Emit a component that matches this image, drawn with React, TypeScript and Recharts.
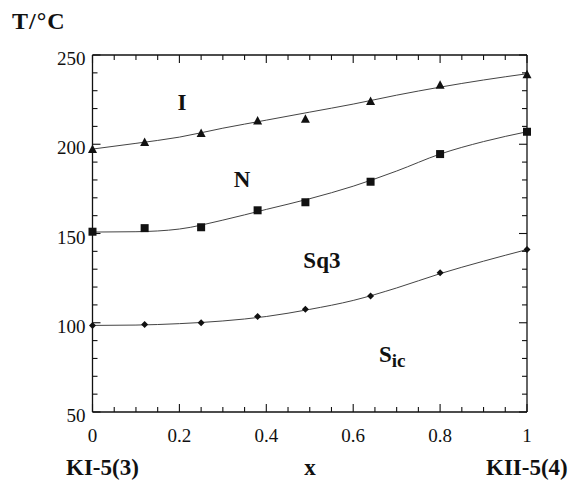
import { ComposedChart, Line, Scatter, XAxis, YAxis } from 'recharts';

// composition x of the measured points (same for all three transitions)
const compX = [0, 0.12, 0.25, 0.38, 0.49, 0.64, 0.8, 1];
const isoT = [197, 201, 206, 213, 214, 224, 233, 239];
const nemT = [151, 153, 153.5, 163, 167.5, 179, 194.5, 207];
const sq3T = [98.5, 99, 100, 103.5, 107.5, 115, 128, 141];

// smooth fitted curves
const fitX = [0, 0.1, 0.2, 0.3, 0.4, 0.5, 0.6, 0.7, 0.8, 0.9, 1];
const isoFit = [197.3, 200.5, 204, 209, 213.5, 218, 222.5, 227.5, 232, 236, 239.5];
const nemFit = [150.8, 151, 152.5, 157.5, 163.5, 169.5, 176.5, 185, 194.5, 201.5, 207];
const sq3Fit = [98.5, 98.7, 99.5, 101, 103.5, 107.5, 112.5, 119.5, 127.5, 134.5, 141];

const regionNames = ['I', 'N', 'Sq3', 'Sic'];
const regionX = [0.206, 0.344, 0.528, 0.69];
const regionT = [223.7, 180.5, 134.8, 82.5];

const xTicks = [0, 0.05, 0.1, 0.15, 0.2, 0.25, 0.3, 0.35, 0.4, 0.45, 0.5, 0.55, 0.6, 0.65, 0.7, 0.75, 0.8, 0.85, 0.9, 0.95, 1];
const xMajor = [0, 0.2, 0.4, 0.6, 0.8, 1];
const xMajorLabels = ['0', '0.2', '0.4', '0.6', '0.8', '1'];
const yTicks = [50, 60, 70, 80, 90, 100, 110, 120, 130, 140, 150, 160, 170, 180, 190, 200, 210, 220, 230, 240, 250];
const yMajor = [50, 100, 150, 200, 250];

const toRows = (xs: number[], ts: number[]) => xs.map((x, i) => ({ x, t: ts[i] }));

const isoPts = toRows(compX, isoT);
const nemPts = toRows(compX, nemT);
const sq3Pts = toRows(compX, sq3T);
const isoLine = toRows(fitX, isoFit);
const nemLine = toRows(fitX, nemFit);
const sq3Line = toRows(fitX, sq3Fit);
const regions = regionNames.map((name, i) => ({ x: regionX[i], t: regionT[i], name }));

const serif = '"Liberation Serif", "DejaVu Serif", serif';
const ink = '#111';

// ticks point inward on all four sides; majors are longer
const BottomTick = (p: any) => {
  const v = p.payload.value;
  const k = xMajor.indexOf(v);
  return (
    <g>
      <line x1={p.x} y1={p.y} x2={p.x} y2={p.y - (k >= 0 ? 8 : 5)} stroke={ink} strokeWidth={1.1} />
      {k >= 0 && (
        <text x={p.x} y={p.y + 30} textAnchor="middle" fontFamily={serif} fontSize={19} fill={ink}>
          {xMajorLabels[k]}
        </text>
      )}
    </g>
  );
};

const TopTick = (p: any) => {
  const major = xMajor.includes(p.payload.value);
  return <line x1={p.x} y1={p.y} x2={p.x} y2={p.y + (major ? 8 : 5)} stroke={ink} strokeWidth={1.1} />;
};

const LeftTick = (p: any) => {
  const v = p.payload.value;
  const major = yMajor.includes(v);
  return (
    <g>
      <line x1={p.x} y1={p.y} x2={p.x + (major ? 8 : 5)} y2={p.y} stroke={ink} strokeWidth={1.1} />
      {major && (
        <text x={p.x - 7} y={p.y + 10} textAnchor="end" fontFamily={serif} fontSize={19} fill={ink}>
          {v}
        </text>
      )}
    </g>
  );
};

const RightTick = (p: any) => {
  const major = yMajor.includes(p.payload.value);
  return <line x1={p.x} y1={p.y} x2={p.x - (major ? 8 : 5)} y2={p.y} stroke={ink} strokeWidth={1.1} />;
};

const Triangle = (p: any) => (
  <polygon points={`${p.cx},${p.cy - 5} ${p.cx - 4.5},${p.cy + 3.5} ${p.cx + 4.5},${p.cy + 3.5}`} fill={ink} />
);
const Square = (p: any) => <rect x={p.cx - 4} y={p.cy - 4} width={8} height={8} fill={ink} />;
const Diamond = (p: any) => (
  <polygon points={`${p.cx},${p.cy - 3.5} ${p.cx + 3.5},${p.cy} ${p.cx},${p.cy + 3.5} ${p.cx - 3.5},${p.cy}`} fill={ink} />
);

const RegionLabel = (p: any) => {
  const name = p.payload.name;
  return (
    <text x={p.cx} y={p.cy} dy="0.33em" textAnchor="middle" fontFamily={serif} fontWeight="bold" fontSize={23} fill={ink}>
      {name === 'Sic' ? (
        <>
          <tspan>S</tspan>
          <tspan fontSize={19} dy={5}>ic</tspan>
        </>
      ) : (
        name
      )}
    </text>
  );
};

export default function App() {
  return (
    <div style={{ position: 'absolute', left: 0, top: 0, width: 575, height: 483, background: '#fff' }}>
      <ComposedChart width={575} height={483} margin={{ top: 53, right: 46, bottom: 41, left: 52 }}>
        <XAxis
          dataKey="x"
          type="number"
          domain={[0, 1]}
          ticks={xTicks}
          interval={0}
          height={30}
          tickSize={0}
          tickMargin={0}
          tickLine={false}
          tick={BottomTick}
          axisLine={{ stroke: ink, strokeWidth: 1.3 }}
        />
        <XAxis
          xAxisId="top"
          orientation="top"
          dataKey="x"
          type="number"
          domain={[0, 1]}
          allowDataOverflow
          ticks={xTicks}
          interval={0}
          height={2}
          tickSize={0}
          tickMargin={0}
          tickLine={false}
          tick={TopTick}
          axisLine={{ stroke: ink, strokeWidth: 1.3 }}
        />
        <YAxis
          dataKey="t"
          type="number"
          domain={[50, 250]}
          ticks={yTicks}
          interval={0}
          width={40.5}
          tickSize={0}
          tickMargin={0}
          tickLine={false}
          tick={LeftTick}
          axisLine={{ stroke: ink, strokeWidth: 1.3 }}
        />
        <YAxis
          yAxisId="right"
          orientation="right"
          dataKey="t"
          type="number"
          domain={[50, 250]}
          allowDataOverflow
          ticks={yTicks}
          interval={0}
          width={2}
          tickSize={0}
          tickMargin={0}
          tickLine={false}
          tick={RightTick}
          axisLine={{ stroke: ink, strokeWidth: 1.3 }}
        />
        <Line data={isoLine} dataKey="t" type="monotone" dot={false} stroke="#444" strokeWidth={1} isAnimationActive={false} />
        <Line data={nemLine} dataKey="t" type="monotone" dot={false} stroke="#444" strokeWidth={1} isAnimationActive={false} />
        <Line data={sq3Line} dataKey="t" type="monotone" dot={false} stroke="#444" strokeWidth={1} isAnimationActive={false} />
        <Scatter data={isoPts} dataKey="t" shape={Triangle} isAnimationActive={false} />
        <Scatter data={nemPts} dataKey="t" shape={Square} isAnimationActive={false} />
        <Scatter data={sq3Pts} dataKey="t" shape={Diamond} isAnimationActive={false} />
        <Scatter data={regions} dataKey="t" shape={RegionLabel} isAnimationActive={false} />
      </ComposedChart>
      <svg width={575} height={483} style={{ position: 'absolute', left: 0, top: 0, pointerEvents: 'none' }}>
        <g fontFamily={serif} fontWeight="bold" fill={ink}>
          <text x={12} y={29} fontSize={24} letterSpacing={1}>T/°C</text>
          <text x={66} y={475} fontSize={23}>KI-5(3)</text>
          <text x={310} y={475} fontSize={23} textAnchor="middle">x</text>
          <text x={486} y={475} fontSize={23}>KII-5(4)</text>
        </g>
      </svg>
    </div>
  );
}
